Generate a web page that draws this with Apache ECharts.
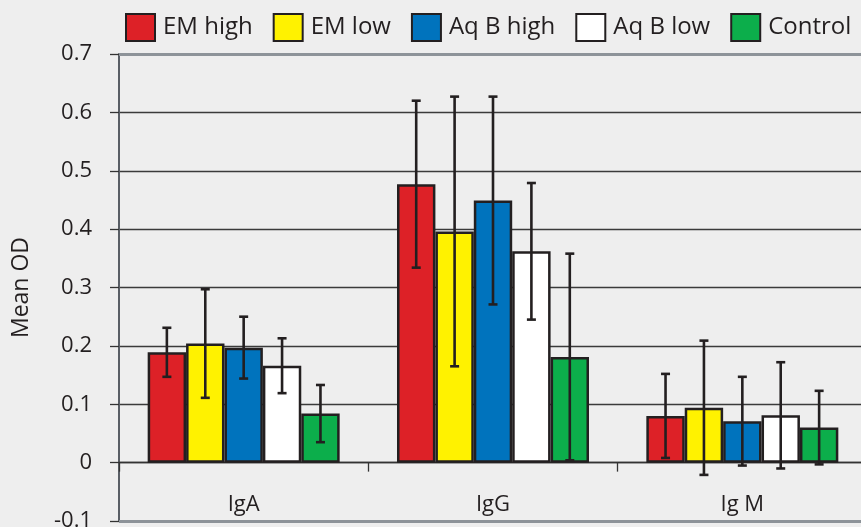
<!DOCTYPE html>
<html><head><meta charset="utf-8">
<script src="https://cdn.jsdelivr.net/npm/echarts@6/dist/echarts.min.js"></script>
<style>html,body{margin:0;padding:0;background:#eeeeee;}#c{width:861px;height:527px;}</style>
</head><body><div id="c"></div>
<script>
const categories = ['IgA', 'IgG', 'Ig M'];
const seriesNames = ['EM high', 'EM low', 'Aq B high', 'Aq B low', 'Control'];
const emHigh = [0.189, 0.477, 0.080];
const emLow = [0.204, 0.396, 0.094];
const aqBHigh = [0.197, 0.449, 0.071];
const aqBLow = [0.166, 0.362, 0.081];
const control = [0.084, 0.181, 0.060];
const emHighErr = [0.042, 0.143, 0.072];
const emLowErr = [0.093, 0.231, 0.115];
const aqBHighErr = [0.053, 0.178, 0.076];
const aqBLowErr = [0.047, 0.117, 0.091];
const controlErr = [0.049, 0.177, 0.063];
const yTicks = [-0.1, 0, 0.1, 0.2, 0.3, 0.4, 0.5, 0.6, 0.7];

const means = [emHigh, emLow, aqBHigh, aqBLow, control];
const errs = [emHighErr, emLowErr, aqBHighErr, aqBLowErr, controlErr];
const colors = ['#dd2127', '#fff200', '#0073bd', '#ffffff', '#0cae4b'];
const FONT = 'Open Sans';
const INK = '#231f20';
const CAT_GAP = 0.23;

const chart = echarts.init(document.getElementById('c'), null, {renderer: 'canvas'});

const barSeries = seriesNames.map((n, i) => ({
  name: n, type: 'bar', data: means[i],
  barGap: '0%', barCategoryGap: (CAT_GAP * 100) + '%',
  itemStyle: {color: colors[i], borderColor: INK, borderWidth: 2.5},
  z: 2
}));

const errData = [];
for (let s = 0; s < 5; s++) for (let c = 0; c < categories.length; c++) errData.push([c, means[s][c], errs[s][c], s]);

const errSeries = {
  type: 'custom', z: 5, data: errData, encode: {x: 0, y: 1},
  renderItem: function (params, api) {
    const c = api.value(0), m = api.value(1), e = api.value(2), s = api.value(3);
    const center = api.coord([c, m]);
    const catW = api.size([1, 0])[0];
    const bw = catW * (1 - CAT_GAP) / 5;
    const x = center[0] + (s - 2) * bw;
    const yt = api.coord([c, m + e])[1];
    const yb = api.coord([c, m - e])[1];
    const cap = 4.5;
    const st = {stroke: INK, lineWidth: 2.6};
    return {type: 'group', children: [
      {type: 'line', shape: {x1: x, y1: yt, x2: x, y2: yb}, style: st},
      {type: 'line', shape: {x1: x - cap, y1: yt, x2: x + cap, y2: yt}, style: st},
      {type: 'line', shape: {x1: x - cap, y1: yb, x2: x + cap, y2: yb}, style: st}
    ]};
  }
};

const borderSeries = {
  type: 'line', data: [], silent: true,
  markLine: {
    silent: true, symbol: 'none', label: {show: false},
    lineStyle: {color: '#8d9399', width: 3, type: 'solid'},
    data: [{yAxis: yTicks[yTicks.length - 1]}, {yAxis: yTicks[0]}]
  }
};

chart.setOption({
  backgroundColor: '#eeeeee',
  animation: false,
  textStyle: {fontFamily: FONT, color: INK},
  legend: {
    data: seriesNames, icon: 'rect', left: 120, top: 8, width: 780, itemWidth: 29, itemHeight: 27, itemGap: 20,
    textStyle: {fontFamily: FONT, fontSize: 24, color: INK, padding: [0, 0, 0, 3]}
  },
  grid: {left: 119, right: -6, top: 54, bottom: 6, containLabel: false, outerBoundsMode: 'none'},
  xAxis: {
    type: 'category', data: categories,
    axisLine: {onZero: true, lineStyle: {color: '#333', width: 1.3}},
    axisTick: {show: true, length: 9, lineStyle: {color: '#333', width: 1.3}},
    axisLabel: {fontFamily: FONT, fontSize: 22, color: INK, margin: -27}
  },
  yAxis: {
    type: 'value', min: -0.1, max: 0.7, interval: 0.1,
    name: 'Mean OD', nameLocation: 'middle', nameRotate: 90, nameGap: 86,
    nameTextStyle: {fontFamily: FONT, fontSize: 23, color: INK},
    axisLine: {show: true, lineStyle: {color: '#595e65', width: 2}},
    axisTick: {show: true, length: 9, lineStyle: {color: '#333', width: 1.3}},
    axisLabel: {fontFamily: FONT, fontSize: 22, color: INK, margin: 27,
      formatter: v => {const r = Math.round(v * 10) / 10; return yTicks.includes(r) ? String(r) : '';}},
    splitLine: {show: true, lineStyle: {color: '#3a3a3a', width: 1.3}}
  },
  series: [...barSeries, errSeries, borderSeries]
});
</script></body></html>
